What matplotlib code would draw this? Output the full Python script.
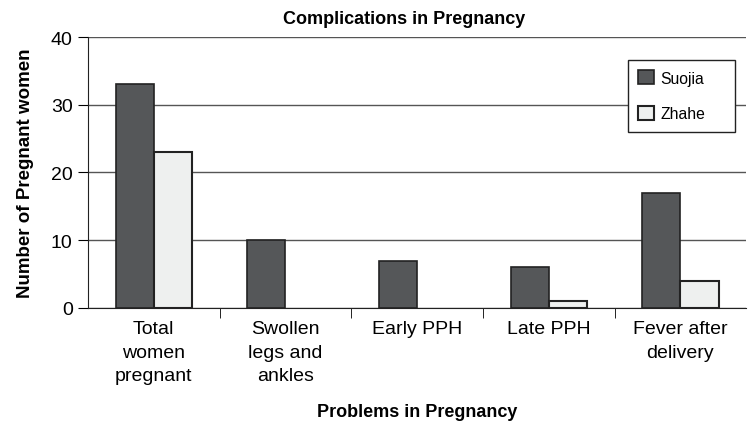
import numpy as np
import matplotlib.pyplot as plt

categories = ['Total\nwomen\npregnant', 'Swollen\nlegs and\nankles', 'Early PPH', 'Late PPH', 'Fever after\ndelivery']
suojia = [33, 10, 7, 6, 17]
zhahe = [23, 0, 0, 1, 4]

plt.rcParams['font.family'] = ['Liberation Sans', 'DejaVu Sans']

fig = plt.figure(figsize=(7.48, 4.35), dpi=100)
ax = fig.add_axes([0.1176, 0.2897, 0.88, 0.6229])

x = np.arange(len(categories))
w = 0.29
# zero values are left out so no flat outline gets drawn
s_h = np.where(np.array(suojia) > 0, suojia, np.nan)
z_h = np.where(np.array(zhahe) > 0, zhahe, np.nan)
ax.bar(x - w/2, s_h, w, color='#555759', edgecolor='#222222', lw=1.2, label='Suojia', zorder=3)
ax.bar(x + w/2, z_h, w, color='#eef0ef', edgecolor='#222222', lw=1.5, label='Zhahe', zorder=3)

ax.set_xlim(-0.5, 4.5)
ax.set_ylim(0, 40)
ax.set_yticks([0, 10, 20, 30, 40])
ax.yaxis.grid(True, color='#555555', lw=1.0)
ax.set_axisbelow(True)
for s in ['top', 'right']:
    ax.spines[s].set_visible(False)
ax.spines['left'].set_color('#222222')
ax.spines['bottom'].set_color('#222222')

ax.set_xticks(x)
ax.set_xticklabels(categories, fontsize=14, va='top', linespacing=1.5)
ax.tick_params(axis='x', length=0, pad=9)
ax.set_xticks(np.arange(0.5, 4.5, 1), minor=True)
ax.tick_params(axis='x', which='minor', length=7, direction='out')
ax.tick_params(axis='y', labelsize=14, length=7, direction='out', pad=4)

ax.set_title('Complications in Pregnancy', fontsize=13, fontweight='bold', pad=10, x=0.48)
ax.set_xlabel('Problems in Pregnancy', fontsize=13, fontweight='bold', labelpad=13)
ax.set_ylabel('Number of Pregnant women', fontsize=13.5, fontweight='bold', labelpad=12)

# legend box stretched to the width seen in the picture
leg = ax.legend(loc='upper left', bbox_to_anchor=(0.820, 0, 0.1626, 0.915), mode='expand',
                borderaxespad=0, fancybox=False, framealpha=1,
                edgecolor='#222222', fontsize=11.3, handlelength=1.0, handleheight=1.0,
                handletextpad=0.45, labelspacing=1.3, borderpad=0.65)
leg.get_frame().set_linewidth(1.0)

fig.savefig('out.png', dpi=100)
